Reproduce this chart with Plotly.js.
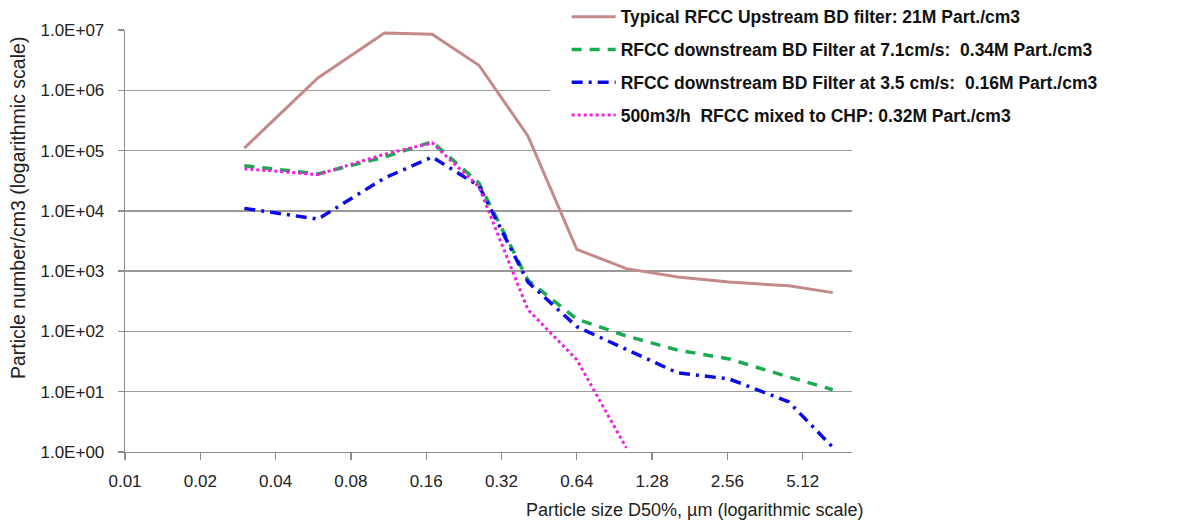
<!DOCTYPE html>
<html>
<head>
<meta charset="utf-8">
<script src="https://cdn.plot.ly/plotly-3.0.1.min.js"></script>
<style>html,body{margin:0;padding:0;background:#fff;}#chart{width:1193px;height:524px;}</style>
</head>
<body>
<div id="chart"></div>
<script>
// Particle size D50% (µm)
const sizes = [0.030, 0.059, 0.109, 0.169, 0.26, 0.408, 0.64, 1.01, 1.62, 2.6, 4.5, 6.75];
const sizesMixed = [0.030, 0.059, 0.109, 0.169, 0.26, 0.408, 0.64, 1.01];

const upstream = [1.1e5, 1.6e6, 8.9e6, 8.5e6, 2.6e6, 1.75e5, 2.3e3, 1.1e3, 8.0e2, 6.6e2, 5.7e2, 4.4e2];
const down71 = [5.6e4, 4.1e4, 7.8e4, 1.4e5, 2.9e4, 7.1e2, 1.6e2, 84, 49, 35, 17.6, 10.8];
const down35 = [1.1e4, 7.3e3, 3.5e4, 7.8e4, 2.6e4, 6.6e2, 1.2e2, 51, 20.5, 16.3, 6.8, 1.2];
const mixedCHP = [5.0e4, 4.0e4, 8.7e4, 1.34e5, 2.5e4, 2.3e2, 34, 1.17];

const seriesNames = [
  "Typical RFCC Upstream BD filter: 21M Part./cm3",
  "RFCC downstream BD Filter at 7.1cm/s:  0.34M Part./cm3",
  "RFCC downstream BD Filter at 3.5 cm/s:  0.16M Part./cm3",
  "500m3/h  RFCC mixed to CHP: 0.32M Part./cm3"
];

const xTickVals = [0.01, 0.02, 0.04, 0.08, 0.16, 0.32, 0.64, 1.28, 2.56, 5.12];
const xTickText = ["0.01", "0.02", "0.04", "0.08", "0.16", "0.32", "0.64", "1.28", "2.56", "5.12"];
const yTickVals = [1, 10, 100, 1e3, 1e4, 1e5, 1e6, 1e7];
const yTickText = ["1.0E+00", "1.0E+01", "1.0E+02", "1.0E+03", "1.0E+04", "1.0E+05", "1.0E+06", "1.0E+07"];

const FONT = "Liberation Sans, Arial, sans-serif";

const traces = [
  {x: sizes, y: upstream, name: seriesNames[0], legendgroup: "g1", mode: "lines",
   line: {color: "#c48a8a", width: 3}},
  {x: sizes, y: down71, name: seriesNames[1], legendgroup: "g2", mode: "lines",
   line: {color: "#1aaa50", width: 3.5, dash: "10px,8px"}},
  {x: sizes, y: down35, name: seriesNames[2], legendgroup: "g3", mode: "lines",
   line: {color: "#0a0ae6", width: 3.5, dash: "11px,6px,3px,6px"}},
  {x: sizesMixed, y: mixedCHP, name: seriesNames[3], legendgroup: "g4", mode: "lines",
   line: {color: "#f020e0", width: 3, dash: "3px,3px"}}
];

const layout = {
  width: 1193, height: 524,
  margin: {l: 125, r: 341, t: 30, b: 72, autoexpand: false},
  paper_bgcolor: "#fff", plot_bgcolor: "#fff",
  font: {family: FONT, size: 17, color: "#222"},
  showlegend: true,
  legend: {
    x: 0.6075, y: 1.074, xanchor: "left", yanchor: "top",
    bgcolor: "rgba(255,255,255,0)", borderwidth: 0,
    font: {family: FONT, size: 17.5, color: "#111", weight: "bold"},
    tracegroupgap: 7, itemwidth: 44
  },
  xaxis: {
    type: "log", range: [-2, 0.9064],
    tickvals: xTickVals, ticktext: xTickText,
    showgrid: false, zeroline: false,
    showline: true, linecolor: "#8c8c8c", linewidth: 1.3,
    ticks: "outside", ticklen: 7, tickcolor: "#8c8c8c", tickwidth: 1.3,
    ticklabelstandoff: 6,
    tickfont: {family: FONT, size: 17, color: "#222"}
  },
  yaxis: {
    type: "log", range: [0, 7],
    tickvals: yTickVals, ticktext: yTickText,
    showgrid: true, gridcolor: "#9a9a9a", gridwidth: 1.3,
    zeroline: false,
    showline: true, linecolor: "#8c8c8c", linewidth: 1.3,
    ticks: "outside", ticklen: 6, tickcolor: "#8c8c8c", tickwidth: 1.3,
    ticklabelstandoff: 10,
    tickfont: {family: FONT, size: 17, color: "#222"}
  },
  shapes: [
    {type: "rect", xref: "paper", yref: "paper", x0: 0.585, x1: 1.02, y0: 0.77, y1: 1.07,
     fillcolor: "#fff", line: {width: 0}, layer: "above"}
  ],
  annotations: [
    {text: "Particle number/cm3 (logarithmic scale)", xref: "paper", yref: "paper",
     x: -0.1472, y: 0.578, xanchor: "center", yanchor: "middle", textangle: -90,
     showarrow: false, font: {family: FONT, size: 19.5, color: "#222"}},
    {text: "Particle size D50%, µm (logarithmic scale)", xref: "paper", yref: "paper",
     x: 0.784, y: -0.1374, xanchor: "center", yanchor: "middle",
     showarrow: false, font: {family: FONT, size: 18, color: "#222"}}
  ]
};

Plotly.newPlot("chart", traces, layout, {displayModeBar: false, staticPlot: true});
</script>
</body>
</html>
